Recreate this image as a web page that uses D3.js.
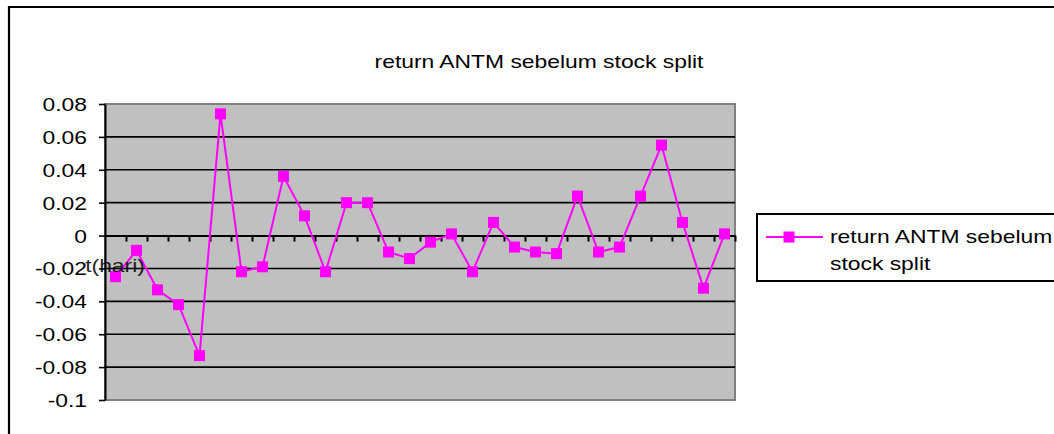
<!DOCTYPE html>
<html>
<head>
<meta charset="utf-8">
<script src="https://cdn.jsdelivr.net/npm/d3@7"></script>
<style>
  html, body { margin: 0; padding: 0; background: #fff; }
  svg { display: block; font-family: "Liberation Sans", Arial, sans-serif; }
</style>
</head>
<body>
<svg id="chart" width="1054" height="434"></svg>
<script>
const title = "return ANTM sebelum stock split";
const seriesName = ["return ANTM sebelum", "stock split"];
const xTitle = "t(hari)";
const days = d3.range(1, 31);
const returns = [
  -0.025, -0.009, -0.033, -0.042, -0.073, 0.074, -0.022, -0.019, 0.036, 0.012,
  -0.022, 0.020, 0.020, -0.010, -0.014, -0.004, 0.001, -0.022, 0.008, -0.007,
  -0.010, -0.011, 0.024, -0.010, -0.007, 0.024, 0.055, 0.008, -0.032, 0.001
];
const yTicks = [-0.1, -0.08, -0.06, -0.04, -0.02, 0, 0.02, 0.04, 0.06, 0.08];
const yTickLabels = ["-0.1", "-0.08", "-0.06", "-0.04", "-0.02", "0", "0.02", "0.04", "0.06", "0.08"];

const SX = 1.27;          // horizontal stretch of text in the reference
const FONT = 18;
const svg = d3.select("#chart");

const plot = { left: 105, right: 735, top: 104, bottom: 400 };
const x = d3.scaleBand().domain(days).range([plot.left, plot.right]);
const xLin = d3.scaleLinear().domain([0, days.length]).range([plot.left, plot.right]);
const y = d3.scaleLinear().domain([-0.1, 0.08]).range([plot.bottom, plot.top]);

// outer chart border
svg.append("path")
  .attr("d", "M9,440 L9,7 L1060,7")
  .attr("fill", "none").attr("stroke", "#000").attr("stroke-width", 2.2);

// title
svg.append("text")
  .attr("transform", `translate(539,68) scale(${SX},1)`)
  .attr("text-anchor", "middle").attr("font-size", FONT).attr("fill", "#000")
  .text(title);

// plot background
svg.append("rect")
  .attr("x", plot.left).attr("y", plot.top)
  .attr("width", plot.right - plot.left).attr("height", plot.bottom - plot.top)
  .attr("fill", "#C0C0C0").attr("stroke", "#808080").attr("stroke-width", 2);

// gridlines
svg.append("g").selectAll("line")
  .data(yTicks.filter(v => v > -0.1 && v < 0.08 && v !== 0))
  .join("line")
  .attr("x1", plot.left).attr("x2", plot.right)
  .attr("y1", d => y(d)).attr("y2", d => y(d))
  .attr("stroke", "#000").attr("stroke-width", 1.6);

// y axis
const yAxis = svg.append("g")
  .attr("transform", `translate(${plot.left},0)`)
  .call(d3.axisLeft(y).tickValues(yTicks).tickSize(6).tickSizeOuter(0)
    .tickFormat((d, i) => yTickLabels[i]));
yAxis.select(".domain").attr("stroke", "#000").attr("stroke-width", 2);
yAxis.selectAll(".tick line").attr("stroke", "#000").attr("stroke-width", 1.6);
yAxis.selectAll(".tick text")
  .attr("x", -18 / SX).attr("dy", "0.36em")
  .attr("transform", `scale(${SX},1)`)
  .attr("font-size", FONT).attr("fill", "#000")
  .attr("font-family", "'Liberation Sans', Arial, sans-serif");

// x axis at zero
const xAxis = svg.append("g")
  .attr("transform", `translate(0,${y(0)})`)
  .call(d3.axisBottom(xLin).tickValues(d3.range(1, days.length + 1)).tickSize(6)
    .tickSizeOuter(0).tickFormat(""));
xAxis.select(".domain").attr("stroke", "#000").attr("stroke-width", 2);
xAxis.selectAll(".tick line").attr("stroke", "#000").attr("stroke-width", 2);

// line
const cx = (d, i) => x(days[i]) + x.bandwidth() / 2;
svg.append("path")
  .datum(returns)
  .attr("d", d3.line().x(cx).y(d => y(d)))
  .attr("fill", "none").attr("stroke", "#FF00FF").attr("stroke-width", 2);

// markers
const M = 11;
svg.append("g").selectAll("rect")
  .data(returns).join("rect")
  .attr("x", (d, i) => cx(d, i) - M / 2).attr("y", d => y(d) - M / 2)
  .attr("width", M).attr("height", M)
  .attr("fill", "#FF00FF");

// x axis title
svg.append("text")
  .attr("transform", `translate(115,272) scale(${SX},1)`)
  .attr("text-anchor", "middle").attr("font-size", FONT).attr("fill", "#000")
  .attr("opacity", 0.85)
  .text(xTitle);

// legend
const lg = svg.append("g");
lg.append("rect")
  .attr("x", 757).attr("y", 214).attr("width", 320).attr("height", 67)
  .attr("fill", "#fff").attr("stroke", "#000").attr("stroke-width", 2);
lg.append("line")
  .attr("x1", 766).attr("x2", 823).attr("y1", 237).attr("y2", 237)
  .attr("stroke", "#FF00FF").attr("stroke-width", 2);
lg.append("rect")
  .attr("x", 789 - M / 2).attr("y", 237 - M / 2).attr("width", M).attr("height", M)
  .attr("fill", "#FF00FF");
seriesName.forEach((t, i) => {
  lg.append("text")
    .attr("transform", `translate(830,${243 + i * 27}) scale(${SX},1)`)
    .attr("font-size", FONT).attr("fill", "#000")
    .text(t);
});
</script>
</body>
</html>
